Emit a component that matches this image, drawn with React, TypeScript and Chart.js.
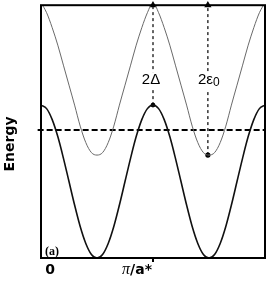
import React, { useEffect, useRef } from "react";
import { Chart, registerables } from "chart.js";

Chart.register(...registerables);

// wave vector in units of pi/a*
const kValues = [
  0, 0.05, 0.1, 0.15, 0.2, 0.25, 0.3, 0.35, 0.4, 0.45, 0.5,
  0.55, 0.6, 0.65, 0.7, 0.75, 0.8, 0.85, 0.9, 0.95, 1.0,
  1.05, 1.1, 1.15, 1.2, 1.25, 1.3, 1.35, 1.4, 1.45, 1.5,
  1.55, 1.6, 1.65, 1.7, 1.75, 1.8, 1.85, 1.9, 1.95, 2.0,
];

const lowerBand = [
  0.5, 0.43, 0.21, -0.13, -0.56, -1.03, -1.5, -1.93, -2.27, -2.49, -2.56,
  -2.49, -2.27, -1.93, -1.5, -1.03, -0.56, -0.13, 0.21, 0.43, 0.5,
  0.43, 0.21, -0.13, -0.56, -1.03, -1.5, -1.93, -2.27, -2.49, -2.56,
  -2.49, -2.27, -1.93, -1.5, -1.03, -0.56, -0.13, 0.21, 0.43, 0.5,
];

const upperBand = [
  2.55, 2.35, 2.05, 1.7, 1.3, 0.9, 0.5, 0.08, -0.25, -0.45, -0.5,
  -0.45, -0.25, 0.08, 0.5, 0.9, 1.3, 1.7, 2.05, 2.35, 2.55,
  2.35, 2.05, 1.7, 1.3, 0.9, 0.5, 0.08, -0.25, -0.45, -0.5,
  -0.45, -0.25, 0.08, 0.5, 0.9, 1.3, 1.7, 2.05, 2.35, 2.55,
];

const fermiK = [-0.03, 2.0];
const fermiLevel = 0;

const gapArrowK = 1.0;
const gapArrowE = [0.5, 2.5];
const gapLabel = "2Δ";

const epsArrowK = 1.49;
const epsArrowE = [-0.5, 2.5];
const epsLabel = "2ε";
const epsSub = "0";
const arrowLabelE = 1.0;

const tickValues = [0, 1];
const tickLabels = ["0", "π/a*"];
const yTitle = "Energy";
const panelLabel = "(a)";

const X_MIN = 0;
const X_MAX = 2;
const Y_MIN = -2.56;
const Y_MAX = 2.5;

const decorPlugin = {
  id: "decor",
  afterDatasetsDraw(chart: any) {
    const { ctx, chartArea: a, scales } = chart;
    const xs = scales.x;
    const ys = scales.y;
    ctx.save();

    // arrow labels with white background
    const ly = ys.getPixelForValue(arrowLabelE);
    ctx.textBaseline = "middle";
    ctx.font = "15px 'Liberation Sans', Arial, sans-serif";
    const gx = xs.getPixelForValue(gapArrowK) - 2;
    const gw = ctx.measureText(gapLabel).width;
    ctx.fillStyle = "#fff";
    ctx.fillRect(gx - gw / 2 - 1, ly - 8, gw + 2, 16);
    ctx.fillStyle = "#000";
    ctx.textAlign = "center";
    ctx.fillText(gapLabel, gx, ly);

    const ex = xs.getPixelForValue(epsArrowK);
    const ew = ctx.measureText(epsLabel).width;
    ctx.font = "12px 'Liberation Sans', Arial, sans-serif";
    const sw = ctx.measureText(epsSub).width;
    const total = ew + sw;
    const ex0 = ex - total / 2 + 1;
    ctx.fillStyle = "#fff";
    ctx.fillRect(ex0 - 1, ly - 8, total + 2, 18);
    ctx.fillStyle = "#000";
    ctx.textAlign = "left";
    ctx.font = "15px 'Liberation Sans', Arial, sans-serif";
    ctx.fillText(epsLabel, ex0, ly);
    ctx.font = "12px 'Liberation Sans', Arial, sans-serif";
    ctx.fillText(epsSub, ex0 + ew, ly + 3);

    // frame
    ctx.strokeStyle = "#000";
    ctx.lineWidth = 2;
    ctx.strokeRect(a.left, a.top, a.right - a.left, a.bottom - a.top);

    // x ticks and labels
    ctx.textBaseline = "middle";
    tickValues.forEach((v, i) => {
      const px = xs.getPixelForValue(v);
      if (i > 0) {
        ctx.beginPath();
        ctx.lineWidth = 2;
        ctx.moveTo(px, a.bottom);
        ctx.lineTo(px, a.bottom + 4);
        ctx.stroke();
      }
      const lab = tickLabels[i];
      const ty = a.bottom + 12;
      if (lab.startsWith("π")) {
        ctx.font = "italic 16px 'Liberation Serif', serif";
        const pw = ctx.measureText("π").width;
        ctx.font = "bold 14px 'DejaVu Sans', sans-serif";
        const rest = lab.slice(1);
        const rw = ctx.measureText(rest).width;
        const start = px - 16 - (pw + rw) / 2;
        ctx.textAlign = "left";
        ctx.font = "italic 16px 'Liberation Serif', serif";
        ctx.fillText("π", start, ty);
        ctx.font = "bold 14px 'DejaVu Sans', sans-serif";
        ctx.fillText(rest, start + pw, ty);
      } else {
        ctx.font = "bold 14px 'DejaVu Sans', sans-serif";
        ctx.textAlign = "center";
        ctx.fillText(lab, px + 9, ty);
      }
    });

    // panel label
    ctx.font = "bold 12px 'Liberation Serif', serif";
    ctx.textAlign = "left";
    ctx.textBaseline = "alphabetic";
    ctx.fillText(panelLabel, a.left + 4, a.bottom - 3);

    // y title
    ctx.translate(10, 144);
    ctx.rotate(-Math.PI / 2);
    ctx.font = "bold 14px 'DejaVu Sans', sans-serif";
    ctx.textAlign = "center";
    ctx.textBaseline = "middle";
    ctx.fillText(yTitle, 0, 0);

    ctx.restore();
  },
};

export default function App() {
  const ref = useRef<HTMLCanvasElement | null>(null);

  useEffect(() => {
    if (!ref.current) return;
    const chart = new Chart(ref.current, {
      type: "line",
      data: {
        datasets: [
          {
            data: kValues.map((k, i) => ({ x: k, y: upperBand[i] })),
            borderColor: "#6a6a6a",
            borderWidth: 1,
            pointRadius: 0,
            cubicInterpolationMode: "monotone",
          },
          {
            data: kValues.map((k, i) => ({ x: k, y: lowerBand[i] })),
            borderColor: "#111",
            borderWidth: 1.6,
            pointRadius: 0,
            cubicInterpolationMode: "monotone",
          },
          {
            data: fermiK.map((k) => ({ x: k, y: fermiLevel })),
            borderColor: "#000",
            borderWidth: 2,
            borderDash: [6, 3],
            pointRadius: 0,
            clip: false,
          },
          {
            data: gapArrowE.map((e) => ({ x: gapArrowK, y: e })),
            borderColor: "#000",
            borderWidth: 1.2,
            borderDash: [3, 3],
            pointStyle: ["circle", "triangle"],
            pointRadius: [1.8, 3],
            pointBackgroundColor: "#000",
            pointBorderColor: "#000",
            clip: false,
          },
          {
            data: epsArrowE.map((e) => ({ x: epsArrowK, y: e })),
            borderColor: "#000",
            borderWidth: 1.2,
            borderDash: [3, 3],
            pointStyle: ["circle", "triangle"],
            pointRadius: [2, 3],
            pointBackgroundColor: "#000",
            pointBorderColor: "#000",
            clip: false,
          },
        ],
      },
      options: {
        animation: false,
        responsive: false,
        maintainAspectRatio: false,
        layout: { padding: { left: 41, right: 8, top: 5, bottom: 23 } },
        scales: {
          x: { type: "linear", min: X_MIN, max: X_MAX, display: false },
          y: { type: "linear", min: Y_MIN, max: Y_MAX, display: false },
        },
        plugins: {
          legend: { display: false },
          tooltip: { enabled: false },
        },
      },
      plugins: [decorPlugin],
    } as any);
    return () => chart.destroy();
  }, []);

  return (
    <div style={{ position: "fixed", left: 0, top: 0, width: 273, height: 281, background: "#fff" }}>
      <canvas ref={ref} width={273} height={281} style={{ display: "block" }} />
    </div>
  );
}
